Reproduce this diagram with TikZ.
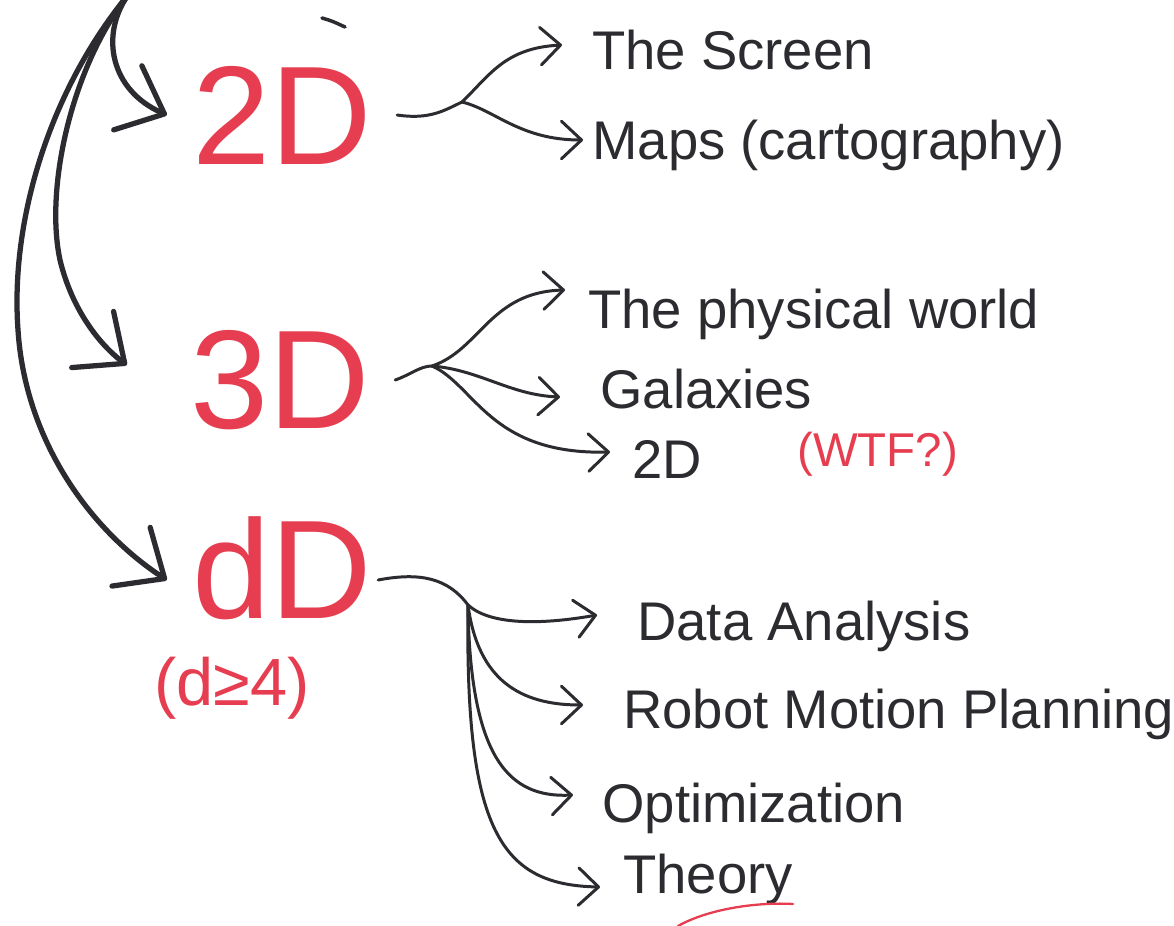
\documentclass[tikz,border=0pt]{standalone}
\usepackage{fontspec}
\setmainfont{Liberation Sans}
\usetikzlibrary{arrows.meta,calc}
\definecolor{ink}{HTML}{2B2B30}
\definecolor{redink}{HTML}{E63E50}
\tikzset{
  biglabel/.style={text=redink, font=\fontsize{80}{80}\selectfont, inner xsep=0.5cm, inner ysep=0pt},
  item/.style={anchor=base west, text=ink, font=\fontsize{31}{34}\selectfont, inner sep=0pt},
  redsmall/.style={anchor=base west, text=redink, inner sep=0pt},
  leftarrow/.style={draw=ink, line width=3pt, line cap=round, line join=round,
    -{Straight Barb[length=0.8cm, width=1.4cm, line cap=round, line join=round]}},
  stem/.style={draw=ink, line width=1.7pt, line cap=round},
  thinarrow/.style={draw=ink, line width=1.7pt, line cap=round, line join=round,
    -{Straight Barb[length=0.4cm, width=0.75cm, line cap=round, line join=round]}}
}
\begin{document}
\begin{tikzpicture}[x=0.02cm, y=-0.02cm]
\fill[white] (0,0) rectangle (1174,926);
\useasboundingbox (0,0) rectangle (1174,926);

% red level labels
\node[biglabel] (n2D) at (282,115) {2D};
\node[biglabel] (n3D) at (280,380) {3D};
\node[biglabel] (ndD) at (282,568) {dD};
\node[text=redink, font=\fontsize{38}{42}\selectfont, inner sep=0pt] (ndge) at (232,688) {(d≥4)};

% items
\node[item] (tScreen) at (592,70) {The Screen};
\node[item] (tMaps) at (592,160) {Maps (cartography)};
\node[item] (tPhys) at (588,328) {The physical world};
\node[item] (tGal) at (600,408) {Galaxies};
\node[item] (tTwo) at (632,478) {2D};
\node[redsmall, font=\fontsize{27}{30}\selectfont] (tWTF) at (797,466) {(WTF?)};
\node[item] (tData) at (637,640) {Data Analysis};
\node[item] (tRobot) at (623,728) {Robot Motion Planning};
\node[item] (tOpt) at (602,822) {Optimization};
\node[item] (tTheory) at (623,893) {Theory};

% arrow end points in front of the items
\coordinate (aScreen) at ($(tScreen.base west)+(-30,-25)$);
\coordinate (aMaps) at ($(tMaps.base west)+(-9,-20)$);
\coordinate (aPhys) at ($(tPhys.base west)+(-23,-38)$);
\coordinate (aGal) at ($(tGal.base west)+(-40,-11)$);
\coordinate (aTwo) at ($(tTwo.base west)+(-22,-26)$);
\coordinate (aData) at ($(tData.base west)+(-40,-25)$);
\coordinate (aRobot) at ($(tRobot.base west)+(-40,-23)$);
\coordinate (aOpt) at ($(tOpt.base west)+(-29,-27)$);
\coordinate (aTheory) at ($(tTheory.base west)+(-23,-6)$);

% left arrows from the top
\coordinate (src) at (128,-5);
\draw[leftarrow] (src) .. controls (100,35) and (110,90) .. (n2D.west);
\draw[leftarrow] (src) .. controls (70,70) and (45,190) .. (60,260)
  .. controls (72,310) and (100,345) .. ($(n3D.west)+(-38,-15)$);
\draw[leftarrow] (src) .. controls (50,90) and (10,220) .. (18,330)
  .. controls (25,440) and (90,530) .. ($(ndD.west)+(0,12)$);

% small stray mark
\draw[ink, line width=2pt, line cap=round] (322,18) .. controls (332,21) .. (345,27);

% 2D branches
\coordinate (b2) at (462,102);
\draw[stem] (n2D.east) .. controls (430,120) and (445,110) .. (b2);
\draw[thinarrow] (b2) .. controls (490,75) and (505,48) .. (aScreen);
\draw[thinarrow] (b2) .. controls (495,110) and (520,140) .. (aMaps);

% 3D branches
\coordinate (b3) at (432,366);
\draw[stem] (n3D.east) .. controls (410,375) and (420,366) .. (b3);
\draw[thinarrow] (b3) .. controls (480,350) and (490,292) .. (aPhys);
\draw[thinarrow] (b3) .. controls (480,370) and (510,395) .. (aGal);
\draw[thinarrow] (b3) .. controls (475,385) and (490,455) .. (aTwo);

% dD branches
\coordinate (bd) at (468,605);
\draw[stem] ($(ndD.east)+(-19,12)$) .. controls (420,572) and (448,578) .. (bd);
\draw[thinarrow] (bd) .. controls (490,625) and (540,625) .. (aData);
\draw[thinarrow] (bd) .. controls (478,680) and (520,705) .. (aRobot);
\draw[thinarrow] (bd) .. controls (470,760) and (510,798) .. (aOpt);
\draw[thinarrow] (bd) .. controls (465,830) and (500,885) .. (aTheory);

% red underline of Theory
\draw[redink, line width=1.3pt, line cap=round] (678,926) .. controls (710,908) and (760,902) .. (793,904);
\end{tikzpicture}
\end{document}
